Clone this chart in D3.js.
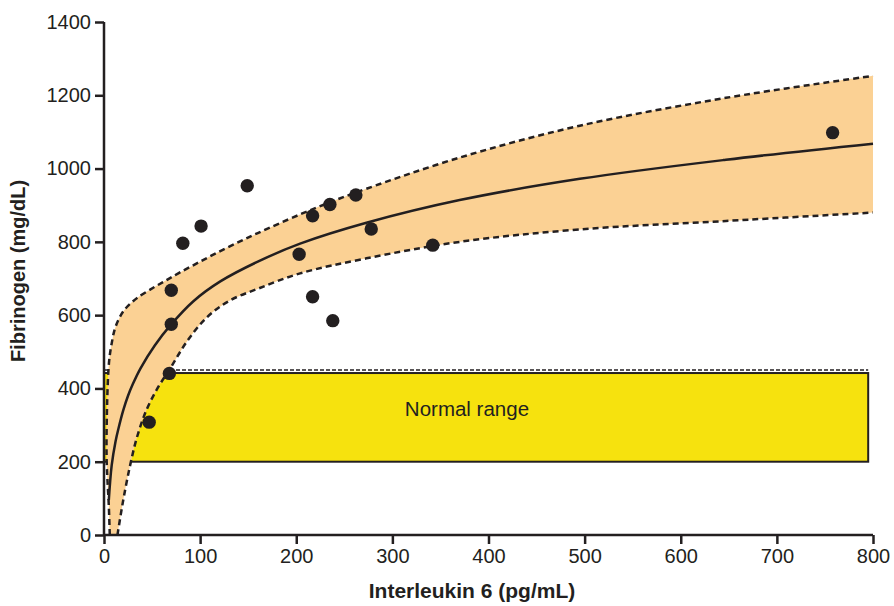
<!DOCTYPE html>
<html>
<head>
<meta charset="utf-8">
<script src="https://cdn.jsdelivr.net/npm/d3@7"></script>
<style>
  html, body { margin: 0; padding: 0; background: #ffffff; }
  svg { display: block; }
  text { font-family: "Liberation Sans", Arial, Helvetica, sans-serif; fill: #231f20; }
</style>
</head>
<body>
<svg id="chart" width="894" height="606"></svg>
<script>
// ---- Data ----
const xTicks = [0, 100, 200, 300, 400, 500, 600, 700, 800];
const yTicks = [0, 200, 400, 600, 800, 1000, 1200, 1400];

// Observed patients: IL-6 (pg/mL) vs fibrinogen (mg/dL)
const pointsIL6 = [47, 68, 70, 70, 82, 101, 149, 203, 217, 217, 235, 238, 262, 278, 342, 758];
const pointsFib = [308, 441, 575, 668, 796, 843, 953, 766, 871, 650, 902, 585, 928, 835, 791, 1098];

// Fitted curve
const fitX = [5, 8, 12, 15, 20, 25, 30, 38, 53, 69, 93, 121, 160, 204, 273, 370, 495, 647, 800];
const fitY = [95, 190, 255, 290, 340, 380, 412, 455, 518, 572, 638, 692, 746, 795, 852, 914, 972, 1024, 1068];

// Upper band limit (traced from the bottom-left end)
const upperX = [6, 5, 3.6, 2.8, 2.6, 3, 3.6, 4.6, 6, 8, 11, 15, 20, 26, 35, 52, 66, 80, 100, 121, 142, 160, 204, 239, 273, 370, 495, 647, 800];
const upperY = [0, 80, 150, 200, 250, 330, 390, 450, 490, 523, 560, 587, 610, 628, 648, 676, 697, 718, 746, 775, 802, 824, 875, 912, 945, 1030, 1117, 1193, 1253];

// Lower band limit
const lowerX = [14, 20, 27, 34, 44, 56, 69, 86, 107, 131, 161, 204, 273, 370, 495, 647, 800];
const lowerY = [0, 95, 188, 264, 340, 402, 455, 527, 594, 640, 673, 714, 755, 800, 834, 857, 880];

// Normal range
const normalLow = 200;
const normalHigh = 442;
const normalDash = 450;
const normalXmin = 0;
const normalXmax = 795;
const normalLabel = "Normal range";

const xTitle = "Interleukin 6 (pg/mL)";
const yTitle = "Fibrinogen (mg/dL)";

// ---- Drawing ----
const svg = d3.select("#chart");
const ink = "#231f20";

const x = d3.scaleLinear().domain([0, 800]).range([104, 873]);
const y = d3.scaleLinear().domain([0, 1400]).range([535, 22]);

const defs = svg.append("defs");
defs.append("clipPath").attr("id", "plotClip")
  .append("rect").attr("x", 104).attr("y", 10).attr("width", 780).attr("height", 525);

const plot = svg.append("g").attr("clip-path", "url(#plotClip)");

// normal range box
plot.append("rect")
  .attr("x", x(normalXmin)).attr("y", y(normalHigh))
  .attr("width", x(normalXmax) - x(normalXmin))
  .attr("height", y(normalLow) - y(normalHigh))
  .attr("fill", "#f6e20e")
  .attr("stroke", ink).attr("stroke-width", 2);
plot.append("line")
  .attr("x1", x(normalXmin)).attr("x2", x(normalXmax))
  .attr("y1", y(normalDash)).attr("y2", y(normalDash))
  .attr("stroke", ink).attr("stroke-width", 1.5).attr("stroke-dasharray", "4,2");

plot.append("text")
  .attr("x", x(313)).attr("y", y(344))
  .attr("dominant-baseline", "central")
  .attr("font-size", 20.5)
  .text(normalLabel);

// band
const upper = upperX.map((v, i) => [v, upperY[i]]);
const lower = lowerX.map((v, i) => [v, lowerY[i]]);
const fit = fitX.map((v, i) => [v, fitY[i]]);

const line = d3.line().x(d => x(d[0])).y(d => y(d[1])).curve(d3.curveCatmullRom.alpha(0.5));

const upPath = line(upper);
const lowRevPath = line(lower.slice().reverse()).replace(/^M/, "L");
plot.append("path")
  .attr("d", upPath + lowRevPath + "Z")
  .attr("fill", "#fbd194")
  .attr("stroke", "none");

plot.append("path").attr("d", line(upper))
  .attr("fill", "none").attr("stroke", ink).attr("stroke-width", 2.5)
  .attr("stroke-dasharray", "6,4");
plot.append("path").attr("d", line(lower))
  .attr("fill", "none").attr("stroke", ink).attr("stroke-width", 2.5)
  .attr("stroke-dasharray", "6,4");
plot.append("path").attr("d", line(fit))
  .attr("fill", "none").attr("stroke", ink).attr("stroke-width", 2.5);

// points
plot.selectAll("circle.pt")
  .data(pointsIL6.map((v, i) => [v, pointsFib[i]]))
  .enter().append("circle").attr("class", "pt")
  .attr("cx", d => x(d[0])).attr("cy", d => y(d[1]))
  .attr("r", 6.7).attr("fill", ink);

// axes
const xAxis = svg.append("g").attr("transform", "translate(0,535)")
  .call(d3.axisBottom(x).tickValues(xTicks).tickSize(9).tickPadding(5).tickFormat(d3.format("d")));
const yAxis = svg.append("g").attr("transform", "translate(104,0)")
  .call(d3.axisLeft(y).tickValues(yTicks).tickSize(9).tickPadding(4).tickFormat(d3.format("d")));

[xAxis, yAxis].forEach(g => {
  g.select(".domain").attr("stroke", ink).attr("stroke-width", 2.5);
  g.selectAll(".tick line").attr("stroke", ink).attr("stroke-width", 2.5);
  g.selectAll(".tick text").attr("font-size", 20).attr("fill", ink)
    .attr("font-family", "'Liberation Sans', Arial, sans-serif");
});
xAxis.select(".domain").attr("d", "M104,0H873");
yAxis.select(".domain").attr("d", "M0,535V22");

svg.append("text")
  .attr("x", 472).attr("y", 598)
  .attr("text-anchor", "middle")
  .attr("font-size", 21).attr("font-weight", "bold")
  .text(xTitle);

svg.append("text")
  .attr("transform", "translate(25,271) rotate(-90)")
  .attr("text-anchor", "middle")
  .attr("font-size", 20).attr("font-weight", "bold")
  .text(yTitle);
</script>
</body>
</html>
